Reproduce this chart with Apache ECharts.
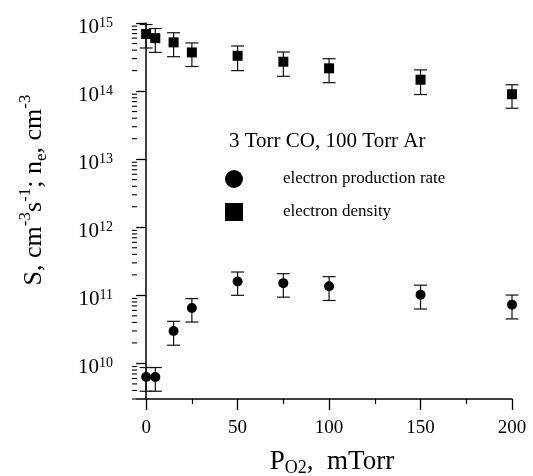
<!DOCTYPE html>
<html><head><meta charset="utf-8">
<script src="https://cdn.jsdelivr.net/npm/echarts@6/dist/echarts.min.js"></script>
<style>html,body{margin:0;padding:0;background:#fff}#c{width:533px;height:476px}</style>
</head><body><div id="c"></div>
<script>
const pressure = [0, 5, 15, 25, 50, 75, 100, 150, 200];
const density = [6.9e14, 6.0e14, 5.2e14, 3.7e14, 3.3e14, 2.7e14, 2.16e14, 1.47e14, 9.0e13];
const densityErr = [2.6e14, 2.3e14, 2.0e14, 1.4e14, 1.3e14, 1.05e14, 8.3e13, 5.8e13, 3.4e13];
const rate = [6.3e9, 6.3e9, 3.0e10, 6.5e10, 1.6e11, 1.51e11, 1.36e11, 1.02e11, 7.3e10];
const rateErr = [2.4e9, 2.4e9, 1.15e10, 2.45e10, 6.0e10, 5.7e10, 5.2e10, 3.9e10, 2.8e10];
const xMajorTicks = [0, 50, 100, 150, 200];
const xMinorTicks = [25, 75, 125, 175];
const yMajorTicks = [1e10, 1e11, 1e12, 1e13, 1e14, 1e15];
const yMinorMantissas = [2, 3, 4, 5, 6, 7, 8, 9];
const xMin = -5, xMax = 200, yMin = 3e9, yMax = 1.001e15;

const yMinorTicks = [];
for (let e = 9; e < 15; e++) {
  yMinorMantissas.forEach(m => { const v = m * Math.pow(10, e); if (v >= yMin && v <= yMax) yMinorTicks.push(v); });
}
const serif = "'Liberation Serif', 'Times New Roman', serif";
const pairs = (vals, errs) => pressure.map((x, i) => [x, vals[i] - errs[i], vals[i] + errs[i]]);
const points = vals => pressure.map((x, i) => [x, vals[i]]);

function errRender(params, api) {
  const x = api.value(0);
  const lo = api.coord([x, api.value(1)]);
  const hi = api.coord([x, api.value(2)]);
  const hw = 6.5;
  const st = { stroke: '#111', lineWidth: 1.2 };
  return { type: 'group', children: [
    { type: 'line', shape: { x1: lo[0], y1: lo[1], x2: hi[0], y2: hi[1] }, style: st },
    { type: 'line', shape: { x1: lo[0] - hw, y1: lo[1], x2: lo[0] + hw, y2: lo[1] }, style: st },
    { type: 'line', shape: { x1: hi[0] - hw, y1: hi[1], x2: hi[0] + hw, y2: hi[1] }, style: st }
  ]};
}
function minorTickRender(params, api) {
  const p = api.coord([api.value(0), api.value(1)]);
  return { type: 'line', shape: { x1: p[0] - 5, y1: p[1], x2: p[0], y2: p[1] }, style: { stroke: '#000', lineWidth: 1.1 } };
}

const chart = echarts.init(document.getElementById('c'), null, { renderer: 'canvas' });
chart.setOption({
  backgroundColor: '#fff',
  animation: false,
  title: { text: '3 Torr CO, 100 Torr Ar', left: 229, top: 131, padding: 0,
    textStyle: { fontFamily: serif, fontSize: 21, fontWeight: 'normal', color: '#000' } },
  legend: { orient: 'vertical', left: 225, top: 170, padding: 0, itemWidth: 18, itemHeight: 18, itemGap: 15,
    data: ['electron production rate', 'electron density'],
    textStyle: { fontFamily: serif, fontSize: 17, color: '#000', padding: [0, 0, 0, 35] } },
  graphic: [
    { type: 'text', x: 332, y: 462, z: 10,
      style: { text: '{b|P}{sub|O2}{b|,  mTorr}', align: 'center', verticalAlign: 'middle',
        rich: {
          b: { fontFamily: serif, fontSize: 27, fill: '#000', lineHeight: 30 },
          sub: { fontFamily: serif, fontSize: 18, fill: '#000', verticalAlign: 'bottom', lineHeight: 18 } } } },
    { type: 'text', x: 34, y: 190, rotation: Math.PI / 2, z: 10,
      style: { text: '{b|S, cm}{sup|-3}{b|s}{sup|-1}{b|; n}{sub|e}{b|, cm}{sup|-3}', align: 'center', verticalAlign: 'middle',
        rich: {
          b: { fontFamily: serif, fontSize: 26, fill: '#000', lineHeight: 33 },
          sup: { fontFamily: serif, fontSize: 17, fill: '#000', verticalAlign: 'top', lineHeight: 17 },
          sub: { fontFamily: serif, fontSize: 17, fill: '#000', verticalAlign: 'bottom', lineHeight: 17 } } } }
  ],
  grid: { left: 137, right: 21, top: 23, bottom: 77, outerBoundsMode: 'none', containLabel: false },
  xAxis: [{
    type: 'value', min: xMin, max: xMax, position: 'bottom',
    axisLine: { lineStyle: { color: '#000', width: 1.5 } },
    axisTick: { customValues: xMajorTicks, length: 11, lineStyle: { color: '#000', width: 1.3 } },
    axisLabel: { customValues: xMajorTicks, margin: 20, fontFamily: serif, fontSize: 19, color: '#000' },
    splitLine: { show: false }
  }, {
    type: 'value', min: xMin, max: xMax, position: 'bottom',
    axisLine: { show: false },
    axisTick: { customValues: xMinorTicks, length: 5, lineStyle: { color: '#000', width: 1.2 } },
    axisLabel: { show: false }, splitLine: { show: false }
  }],
  yAxis: [{
    type: 'log', logBase: 10, min: yMin, max: yMax, position: 'left',
    axisLine: { lineStyle: { color: '#000', width: 1.5 } },
    axisTick: { customValues: yMajorTicks, length: 10, lineStyle: { color: '#000', width: 1.3 } },
    axisLabel: { customValues: yMajorTicks, margin: 24, showMaxLabel: true, hideOverlap: false,
      formatter: v => '{b|10}{s|' + Math.round(Math.log10(v)) + '}',
      rich: {
        b: { fontFamily: serif, fontSize: 21, color: '#000', lineHeight: 20, padding: [8, 0, 0, 0] },
        s: { fontFamily: serif, fontSize: 14, color: '#000', verticalAlign: 'top', lineHeight: 14, padding: [3, 0, 0, 0] } } },
    splitLine: { show: false }
  }],
  series: [
    { type: 'custom', renderItem: minorTickRender, data: yMinorTicks.map(v => [xMin, v]), encode: { x: 0, y: 1 }, z: 1, silent: true, clip: false },
    { type: 'custom', renderItem: errRender, data: pairs(rate, rateErr), encode: { x: 0, y: [1, 2] }, z: 1, silent: true },
    { type: 'custom', renderItem: errRender, data: pairs(density, densityErr), encode: { x: 0, y: [1, 2] }, z: 1, silent: true },
    { name: 'electron production rate', type: 'scatter', symbol: 'circle', symbolSize: 10,
      itemStyle: { color: '#000', opacity: 1 }, data: points(rate), z: 3 },
    { name: 'electron density', type: 'scatter', symbol: 'rect', symbolSize: [10, 10],
      itemStyle: { color: '#000', opacity: 1 }, data: points(density), z: 3 }
  ]
});
</script></body></html>
